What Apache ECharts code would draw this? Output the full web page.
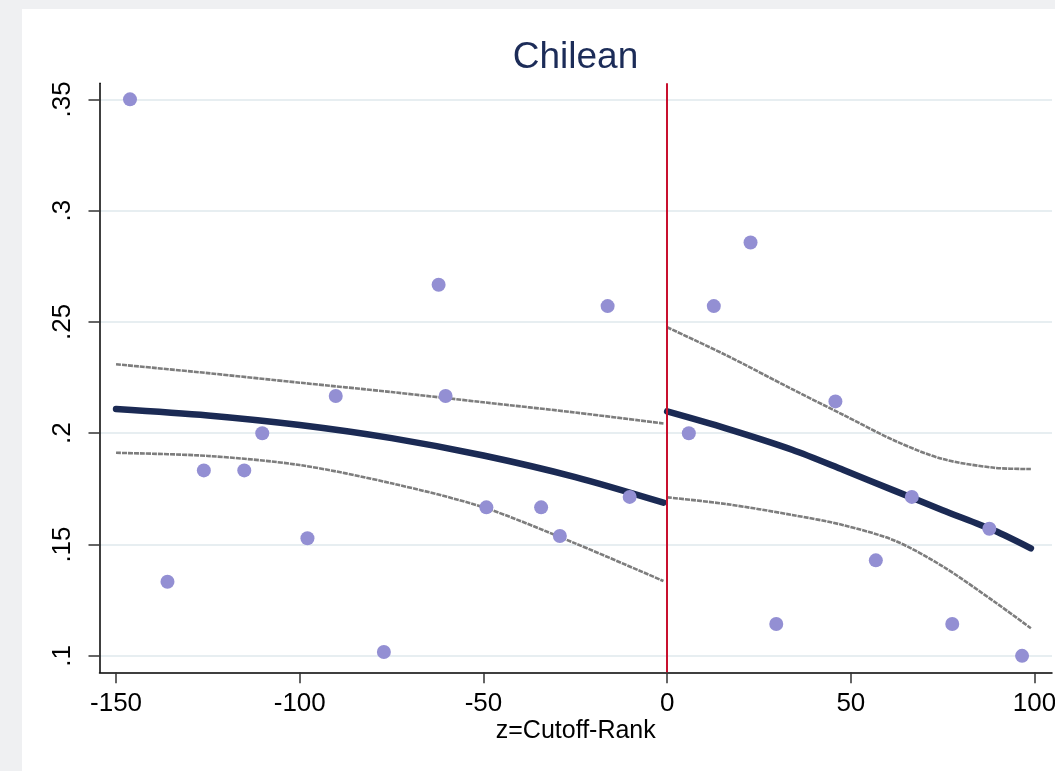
<!DOCTYPE html>
<html>
<head>
<meta charset="utf-8">
<script src="https://cdn.jsdelivr.net/npm/echarts@6.0.0/dist/echarts.min.js"></script>
<style>
  html, body { margin: 0; padding: 0; background: #eff0f2; }
  #panel { position: absolute; left: 22px; top: 9px; right: 0; bottom: 0; background: #ffffff; }
  #chart { position: absolute; left: 0; top: 0; width: 1055px; height: 771px; }
</style>
</head>
<body>
<div id="panel"></div>
<div id="chart"></div>
<script>
// ---- Data ----
const titleText = 'Chilean';
const xAxisTitle = 'z=Cutoff-Rank';

const xTicks = [-150, -100, -50, 0, 50, 100];
const xTickLabels = ['-150', '-100', '-50', '0', '50', '100'];
const yTicks = [0.1, 0.15, 0.2, 0.25, 0.3, 0.35];
const yTickLabels = ['.1', '.15', '.2', '.25', '.3', '.35'];

// scatter observations (z, share)
const pointsX = [-146.2, -136.0, -126.1, -115.1, -110.2, -97.9, -90.2, -77.1, -62.2, -60.3,
                 -49.2, -34.3, -29.2, -16.2, -10.2, 5.9, 12.7, 22.7, 29.7, 45.8,
                 56.8, 66.6, 77.6, 87.7, 96.6];
const pointsY = [0.3500, 0.1333, 0.1833, 0.1833, 0.2000, 0.1528, 0.2167, 0.1017, 0.2667, 0.2167,
                 0.1667, 0.1667, 0.1538, 0.2571, 0.1714, 0.2000, 0.2571, 0.2857, 0.1143, 0.2143,
                 0.1429, 0.1714, 0.1143, 0.1571, 0.1000];

// left-of-cutoff fit and confidence band
const leftX      = [-150, -125, -100, -75, -50, -25, -1];
const leftFit    = [0.2109, 0.2080, 0.2037, 0.1978, 0.1900, 0.1803, 0.1688];
const leftUpper  = [0.2310, 0.2270, 0.2227, 0.2185, 0.2139, 0.2093, 0.2044];
const leftLower  = [0.1912, 0.1898, 0.1857, 0.1775, 0.1667, 0.1505, 0.1336];

// right-of-cutoff fit and confidence band
const rightX     = [0, 16, 34, 48, 62, 75, 89, 99];
const rightFit   = [0.2098, 0.2022, 0.1926, 0.1835, 0.1741, 0.1654, 0.1563, 0.1483];
const rightUpper = [0.2476, 0.2351, 0.2198, 0.2082, 0.1966, 0.1884, 0.1845, 0.1839];
const rightLower = [0.1712, 0.1682, 0.1633, 0.1587, 0.1517, 0.1402, 0.1244, 0.1124];

const cutoffX = 0;

// ---- Build chart ----
const FONT = 'Liberation Sans, Arial, Helvetica, sans-serif';
const zip = (xs, ys) => xs.map((x, i) => [x, ys[i]]);
const lookup = (ticks, labels) => v => {
  const i = ticks.findIndex(t => Math.abs(t - v) < 1e-9);
  return i >= 0 ? labels[i] : '';
};

const ciStyle = { color: '#7d7d7d', width: 2.6, type: [5, 1], cap: 'butt' };
const fitStyle = { color: '#1b2a54', width: 6.5, cap: 'round', join: 'round' };

function lineSeries(xs, ys, style, z) {
  return {
    type: 'line', data: zip(xs, ys), showSymbol: false, symbol: 'none',
    smooth: 0.3, lineStyle: style, z: z, silent: true
  };
}

const chart = echarts.init(document.getElementById('chart'), null, { renderer: 'canvas' });
chart.setOption({
  animation: false,
  backgroundColor: 'transparent',
  title: {
    text: titleText,
    left: 575.5, top: 39.5, padding: 0, textAlign: 'center',
    textStyle: { fontFamily: FONT, fontSize: 37, fontWeight: 'normal', color: '#1c2c58' }
  },
  grid: { left: 99.5, top: 83.3, right: 3, bottom: 98.7, containLabel: false, outerBoundsMode: 'none' },
  xAxis: {
    type: 'value', min: -154.5, max: 104.75,
    name: xAxisTitle, nameLocation: 'middle', nameGap: 46, nameMoveOverlap: false,
    nameTextStyle: { fontFamily: FONT, fontSize: 25, color: '#000' },
    axisLine: { show: true, onZero: false, lineStyle: { color: '#000', width: 1.5 } },
    axisTick: { show: true, length: 11, customValues: xTicks, lineStyle: { color: '#333', width: 1.5 } },
    axisLabel: { customValues: xTicks, formatter: lookup(xTicks, xTickLabels), margin: 19,
                 fontFamily: FONT, fontSize: 26, color: '#000', showMinLabel: true, showMaxLabel: true, hideOverlap: false },
    splitLine: { show: false }
  },
  yAxis: {
    type: 'value', min: 0.0926, max: 0.3572,
    axisLine: { show: true, onZero: false, lineStyle: { color: '#000', width: 1.5 } },
    axisTick: { show: true, length: 11, customValues: yTicks, lineStyle: { color: '#333', width: 1.5 } },
    axisLabel: { customValues: yTicks, formatter: lookup(yTicks, yTickLabels), rotate: 90, margin: 24,
                 fontFamily: FONT, fontSize: 26, color: '#000', showMinLabel: true, showMaxLabel: true, hideOverlap: false },
    splitLine: { show: true, lineStyle: { color: '#e7eef1', width: 2 } }
  },
  series: [
    lineSeries(leftX, leftUpper, ciStyle, 2),
    lineSeries(leftX, leftLower, ciStyle, 2),
    lineSeries(rightX, rightUpper, ciStyle, 2),
    lineSeries(rightX, rightLower, ciStyle, 2),
    lineSeries(leftX, leftFit, fitStyle, 3),
    lineSeries(rightX, rightFit, fitStyle, 3),
    {
      type: 'scatter', data: zip(pointsX, pointsY), symbol: 'circle', symbolSize: 14,
      itemStyle: { color: '#938fd3', opacity: 1 }, z: 4, silent: true
    },
    {
      type: 'line', data: [], z: 6, silent: true,
      markLine: {
        silent: true, symbol: ['none', 'none'], animation: false,
        label: { show: false },
        lineStyle: { color: '#c8102e', width: 2, type: 'solid' },
        data: [{ xAxis: cutoffX }]
      }
    }
  ]
});
</script>
</body>
</html>
